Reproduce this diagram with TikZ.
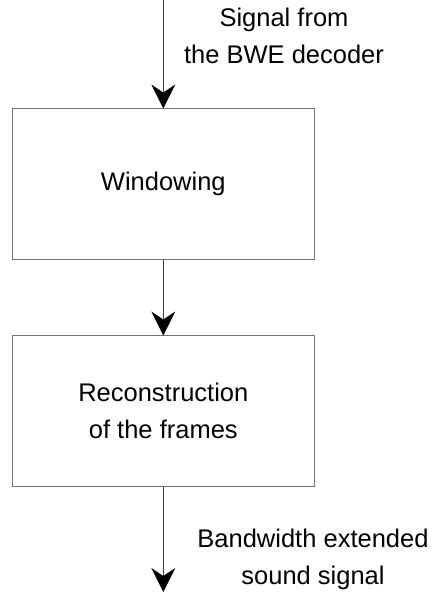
\documentclass[tikz,border=0pt]{standalone}
\usepackage{fontspec}
\setmainfont{Liberation Sans}
\usetikzlibrary{arrows.meta,positioning}

\begin{document}
\begin{tikzpicture}
  [x=1pt,y=1pt,align=center,node distance=76pt,
   font=\fontsize{25.5}{37}\selectfont,
   block/.style={draw=black!55,line width=1.5pt,minimum width=302pt,minimum height=151pt,inner sep=0pt,outer sep=0pt},
   flow/.style={draw=black!75,line width=1pt,-{Stealth[length=24pt,width=24pt,inset=8pt,color=black]}}]

  \useasboundingbox (0,0) rectangle (436,-602);
  \coordinate (src) at (163.3,0);
  \node (win) [block] at (163.3,-184) {Windowing};
  \node (rec) [block,below=of win] {Reconstruction\\of the frames};
  \coordinate (dst) at (163.3,-592);
  \node (srclbl) [inner sep=0pt] at (284,-35.5) {Signal from\\the BWE decoder};
  \node (dstlbl) [inner sep=0pt] at (313,-559) {Bandwidth extended\\sound signal};

\path (src) edge [flow] (win) (win) edge [flow] (rec) (rec) edge [flow] (dst);
\end{tikzpicture}
\end{document}
